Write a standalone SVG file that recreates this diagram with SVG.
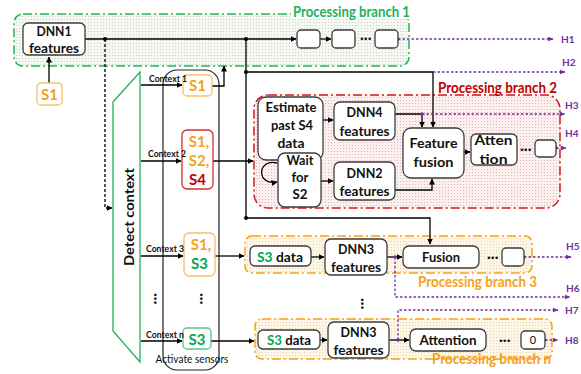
<svg xmlns="http://www.w3.org/2000/svg" width="581" height="374" viewBox="0 0 581 374">
  <defs>
    <style>
      .box { fill: #fff; stroke: #3c3c3c; stroke-width: 1.3; }
      .t { font-family: Lato, "Liberation Sans", sans-serif; font-weight: bold; font-size: 14px; fill: #111; text-anchor: middle; }
      .ts { font-family: Lato, "Liberation Sans", sans-serif; font-weight: bold; font-size: 14px; fill: #111; text-anchor: start; }
      .ctx { font-family: Lato, "Liberation Sans", sans-serif; font-weight: bold; font-size: 9.5px; fill: #111; }
      .s { font-family: Lato, "Liberation Sans", sans-serif; font-weight: bold; font-size: 15px; text-anchor: middle; }
      .or { fill: #F5A11C; }
      .gr { fill: #00A850; }
      .rd { fill: #C00000; }
      .h { font-family: Lato, "Liberation Sans", sans-serif; font-weight: bold; font-size: 10px; fill: #7030A0; }
      .lbl { font-family: Lato, "Liberation Sans", sans-serif; font-weight: bold; font-size: 15px; }
      .dots { font-family: "DejaVu Sans", sans-serif; font-size: 9px; fill: #111; text-anchor: middle; letter-spacing: -1.5px; }
      .cn path { fill: none; stroke: #000; stroke-width: 1.3; }
      .pu path { fill: none; stroke: #7030A0; stroke-width: 1.3; stroke-dasharray: 2.5 2; }
      .jd { fill: #000; }
      .pd { fill: #7030A0; }
    </style>
    <pattern id="pG" width="3" height="3" patternUnits="userSpaceOnUse">
      <rect width="3" height="3" fill="#f6f8f3"/>
      <circle cx="1.5" cy="1.5" r="0.6" fill="#c2ccbb"/>
    </pattern>
    <pattern id="pR" width="3" height="3" patternUnits="userSpaceOnUse">
      <rect width="3" height="3" fill="#fcf1f1"/>
      <circle cx="1.5" cy="1.5" r="0.6" fill="#e6a9a9"/>
    </pattern>
    <pattern id="pO" width="3" height="3" patternUnits="userSpaceOnUse">
      <rect width="3" height="3" fill="#fdf7ea"/>
      <circle cx="1.5" cy="1.5" r="0.6" fill="#f2cf95"/>
    </pattern>
    <marker id="ah" markerWidth="6" markerHeight="6" refX="5.5" refY="3" orient="auto" markerUnits="userSpaceOnUse">
      <path d="M0,0 L6,3 L0,6 z" fill="#000"/>
    </marker>
    <marker id="ap" markerWidth="6" markerHeight="6" refX="5.5" refY="3" orient="auto" markerUnits="userSpaceOnUse">
      <path d="M0,0.5 L6,3 L0,5.5 z" fill="#7030A0"/>
    </marker>
  </defs>

  <rect width="581" height="374" fill="#fff"/>

  <!-- branch containers -->
  <g id="branch1">
    <rect x="14" y="14" width="395" height="52" rx="9" fill="url(#pG)" stroke="#22B35A" stroke-width="1.5" stroke-dasharray="9 3 2 3"/>
    <rect x="291" y="3" width="121" height="16" fill="#fff"/>
    <text class="lbl" x="293" y="17" fill="#22B35A" textLength="117" lengthAdjust="spacingAndGlyphs">Processing branch 1</text>
  </g>
  <g id="branch2">
    <rect x="254" y="95" width="306" height="113" rx="14" fill="url(#pR)" stroke="#D01818" stroke-width="1.5" stroke-dasharray="9 3 2 3"/>
    <text class="lbl" x="438" y="93" fill="#C00000" textLength="119" lengthAdjust="spacingAndGlyphs">Processing branch 2</text>
  </g>
  <g id="branch3">
    <rect x="245" y="236" width="287" height="37" rx="7" fill="url(#pO)" stroke="#F5A11C" stroke-width="1.5" stroke-dasharray="9 3 2 3"/>
    <text class="lbl" x="418" y="287" fill="#F5A11C" textLength="119" lengthAdjust="spacingAndGlyphs">Processing branch 3</text>
  </g>
  <g id="branchn">
    <rect x="255" y="319" width="297" height="40" rx="7" fill="url(#pO)" stroke="#F5A11C" stroke-width="1.5" stroke-dasharray="9 3 2 3"/>
  </g>

  <!-- context detector and sensor activation -->
  <g id="detect-context">
    <polygon points="113,102 140,72 140,362 113,331" fill="#fff" stroke="#22B35A" stroke-width="1.3"/>
    <text class="t" transform="translate(134,217) rotate(-90)" font-size="16" textLength="98" lengthAdjust="spacingAndGlyphs">Detect context</text>
  </g>
  <g id="activate-sensors">
    <rect x="163" y="70" width="56" height="300" rx="14" fill="none" stroke="#222" stroke-width="1.2"/>
    <text x="192" y="363" font-family="Lato, 'Liberation Sans', sans-serif" font-size="12" fill="#111" text-anchor="middle" textLength="73" lengthAdjust="spacingAndGlyphs">Activate sensors</text>
  </g>

  <!-- connectors -->
  <g id="connectors">
    <g class="cn">
      <path d="M85,39 H296" marker-end="url(#ah)"/>
      <path d="M320,39 H331" marker-end="url(#ah)"/>
      <path d="M105,39 V208 H112" stroke-width="1" stroke-dasharray="3 2" marker-end="url(#ah)"/>
      <path d="M49,83 V57" marker-end="url(#ah)"/>
      <path d="M246,39 V218"/>
      <path d="M246,72 H433 V127" marker-end="url(#ah)"/>
      <path d="M246,218 H430 V244" marker-end="url(#ah)"/>
      <path d="M141,85 H182" marker-end="url(#ah)"/>
      <path d="M141,161 H181" marker-end="url(#ah)"/>
      <path d="M141,256 H183" marker-end="url(#ah)"/>
      <path d="M141,341 H182" marker-end="url(#ah)"/>
      <path d="M212,86 H224 V66" marker-end="url(#ah)"/>
      <path d="M213,161 H253" marker-end="url(#ah)"/>
      <path d="M215,256 H244" marker-end="url(#ah)"/>
      <path d="M211,341 H254" marker-end="url(#ah)"/>
      <path d="M323,120 H333" marker-end="url(#ah)"/>
      <path d="M321,181 H333" marker-end="url(#ah)"/>
      <path d="M277,163 C257,158 256,186 277,182" marker-end="url(#ah)"/>
      <path d="M395,114 H422 V127" marker-end="url(#ah)"/>
      <path d="M395,190 H432 V179" marker-end="url(#ah)"/>
      <path d="M464,152 H470" marker-end="url(#ah)"/>
      <path d="M311,257 H324" marker-end="url(#ah)"/>
      <path d="M387,257 H402" marker-end="url(#ah)"/>
      <path d="M320,340 H327" marker-end="url(#ah)"/>
      <path d="M389,340 H409" marker-end="url(#ah)"/>
    </g>
    <circle class="jd" cx="105" cy="39" r="2"/>
    <circle class="jd" cx="246" cy="39" r="2"/>
    <circle class="jd" cx="246" cy="72" r="2"/>
    <circle class="jd" cx="246" cy="218" r="2"/>
    <g class="pu">
      <path d="M398,39 H553" marker-end="url(#ap)"/>
      <path d="M433,72 H565" marker-end="url(#ap)"/>
      <path d="M422,114 H565" marker-end="url(#ap)"/>
      <path d="M556,148 H566" marker-end="url(#ap)"/>
      <path d="M524,257 H571" marker-end="url(#ap)"/>
      <path d="M395,257 V297 H570" marker-end="url(#ap)"/>
      <path d="M398,340 V310 H558" marker-end="url(#ap)"/>
      <path d="M545,340 H558" marker-end="url(#ap)"/>
    </g>
    <circle class="pd" cx="398" cy="39" r="1.8"/>
    <circle class="pd" cx="422" cy="114" r="1.8"/>
    <circle class="pd" cx="556" cy="148" r="1.8"/>
    <circle class="pd" cx="524" cy="257" r="1.8"/>
    <circle class="pd" cx="395" cy="257" r="1.8"/>
    <circle class="pd" cx="398" cy="340" r="1.8"/>
    <circle class="pd" cx="545" cy="340" r="1.8"/>
  </g>

  <!-- branch 1 nodes -->
  <g id="dnn1">
    <rect class="box" x="23" y="23" width="62" height="32" rx="5"/>
    <text class="t" x="54" y="36" textLength="35" lengthAdjust="spacingAndGlyphs">DNN1</text>
    <text class="t" x="54" y="53" textLength="50" lengthAdjust="spacingAndGlyphs">features</text>
  </g>
  <g id="s1-source">
    <rect x="37" y="83" width="25" height="22" rx="4" fill="#fff" stroke="#F7C06A" stroke-width="1.3"/>
    <text class="s or" x="49.5" y="100">S1</text>
  </g>
  <g id="b1-step1"><rect class="box" x="297" y="30" width="23" height="18" rx="4"/></g>
  <g id="b1-step2"><rect class="box" x="332" y="30" width="23" height="18" rx="4"/></g>
  <text class="dots" x="365" y="42">•••</text>
  <g id="b1-out"><rect class="box" x="375" y="30" width="23" height="18" rx="4"/></g>

  <!-- sensor sets -->
  <g id="sensors-ctx1">
    <rect x="183" y="75" width="29" height="21" rx="4" fill="#fff" stroke="#F7C06A" stroke-width="1.3"/>
    <text class="s or" x="197.5" y="91">S1</text>
  </g>
  <g id="sensors-ctx2">
    <rect x="182" y="130" width="31" height="59" rx="5" fill="#fff" stroke="#D03030" stroke-width="1.3"/>
    <text class="s or" x="199" y="147">S1,</text>
    <text class="s or" x="199" y="166">S2,</text>
    <text class="s rd" x="197.5" y="185">S4</text>
  </g>
  <g id="sensors-ctx3">
    <rect x="184" y="233" width="31" height="43" rx="5" fill="#fff" stroke="#F7C06A" stroke-width="1.3"/>
    <text class="s or" x="201" y="250">S1,</text>
    <text class="s gr" x="199.5" y="269">S3</text>
  </g>
  <g id="sensors-ctxn">
    <rect x="183" y="328" width="28" height="21" rx="4" fill="#fff" stroke="#5CC48A" stroke-width="1.3"/>
    <text class="s gr" x="197" y="345">S3</text>
  </g>

  <!-- context labels -->
  <text class="ctx" x="149" y="82" textLength="38" lengthAdjust="spacingAndGlyphs">Context 1</text>
  <text class="ctx" x="148" y="157" textLength="38" lengthAdjust="spacingAndGlyphs">Context 2</text>
  <text class="ctx" x="146" y="252" textLength="38" lengthAdjust="spacingAndGlyphs">Context 3</text>
  <text class="ctx" x="146" y="338" textLength="38" lengthAdjust="spacingAndGlyphs">Context n</text>
  <text class="dots" transform="translate(152,298) rotate(90)">•••</text>
  <text class="dots" transform="translate(198,298) rotate(90)">•••</text>

  <!-- branch 2 nodes -->
  <g id="estimate-s4">
    <rect class="box" x="258" y="97" width="65" height="63" rx="8"/>
    <text class="t" x="291" y="112" textLength="51" lengthAdjust="spacingAndGlyphs">Estimate</text>
    <text class="t" x="292" y="130" textLength="42" lengthAdjust="spacingAndGlyphs">past S4</text>
    <text class="t" x="291" y="148" textLength="27" lengthAdjust="spacingAndGlyphs">data</text>
  </g>
  <g id="wait-s2">
    <rect class="box" x="278" y="153" width="43" height="54" rx="7"/>
    <text class="t" x="300" y="165" textLength="27" lengthAdjust="spacingAndGlyphs">Wait</text>
    <text class="t" x="300" y="182" textLength="17" lengthAdjust="spacingAndGlyphs">for</text>
    <text class="t" x="300" y="199" textLength="15" lengthAdjust="spacingAndGlyphs">S2</text>
  </g>
  <g id="dnn4">
    <rect class="box" x="334" y="102" width="61" height="38" rx="6"/>
    <text class="t" x="364.5" y="117" textLength="36" lengthAdjust="spacingAndGlyphs">DNN4</text>
    <text class="t" x="364.5" y="136" textLength="50" lengthAdjust="spacingAndGlyphs">features</text>
  </g>
  <g id="dnn2">
    <rect class="box" x="334" y="162" width="61" height="38" rx="6"/>
    <text class="t" x="364.5" y="178" textLength="36" lengthAdjust="spacingAndGlyphs">DNN2</text>
    <text class="t" x="364.5" y="196" textLength="50" lengthAdjust="spacingAndGlyphs">features</text>
  </g>
  <g id="feature-fusion">
    <rect class="box" x="403" y="128" width="61" height="50" rx="8"/>
    <text class="t" x="433.5" y="148" textLength="48" lengthAdjust="spacingAndGlyphs">Feature</text>
    <text class="t" x="433.5" y="167" textLength="40" lengthAdjust="spacingAndGlyphs">fusion</text>
  </g>
  <g id="attention-b2">
    <rect class="box" x="471" y="134" width="46" height="31" rx="5"/>
    <text class="t" x="493.5" y="145" textLength="38" lengthAdjust="spacingAndGlyphs">Atten</text>
    <text class="t" x="493.5" y="164" textLength="28" lengthAdjust="spacingAndGlyphs">tion</text>
  </g>
  <text class="dots" x="525" y="153">•••</text>
  <g id="b2-out"><rect class="box" x="535" y="140" width="21" height="17" rx="4"/></g>

  <!-- branch 3 nodes -->
  <g id="s3-data-b3">
    <rect class="box" x="250" y="246" width="61" height="20" rx="5"/>
    <text class="ts" x="257" y="262" textLength="46" lengthAdjust="spacingAndGlyphs"><tspan class="gr">S3</tspan> data</text>
  </g>
  <g id="dnn3-b3">
    <rect class="box" x="325" y="239" width="62" height="36" rx="6"/>
    <text class="t" x="356" y="254" textLength="36" lengthAdjust="spacingAndGlyphs">DNN3</text>
    <text class="t" x="356" y="272" textLength="50" lengthAdjust="spacingAndGlyphs">features</text>
  </g>
  <g id="fusion-b3">
    <rect class="box" x="403" y="246" width="76" height="22" rx="6"/>
    <text class="t" x="441" y="262" textLength="38" lengthAdjust="spacingAndGlyphs">Fusion</text>
  </g>
  <text class="dots" x="492" y="261">•••</text>
  <g id="b3-out"><rect class="box" x="502" y="248" width="22" height="18" rx="4"/></g>

  <!-- branch n nodes -->
  <g id="s3-data-bn">
    <rect class="box" x="258" y="330" width="62" height="19" rx="5"/>
    <text class="ts" x="267" y="345" textLength="44" lengthAdjust="spacingAndGlyphs"><tspan class="gr">S3</tspan> data</text>
  </g>
  <text class="dots" transform="translate(359,303) rotate(90)">•••</text>
  <g id="dnn3-bn">
    <rect class="box" x="328" y="322" width="61" height="36" rx="6"/>
    <text class="t" x="358.5" y="337" textLength="36" lengthAdjust="spacingAndGlyphs">DNN3</text>
    <text class="t" x="358.5" y="355" textLength="50" lengthAdjust="spacingAndGlyphs">features</text>
  </g>
  <g id="attention-bn">
    <rect class="box" x="410" y="329" width="76" height="22" rx="6"/>
    <text class="t" x="448" y="345" textLength="57" lengthAdjust="spacingAndGlyphs">Attention</text>
  </g>
  <text class="dots" x="504" y="344">•••</text>
  <g id="bn-out">
    <rect class="box" x="521" y="331" width="24" height="18" rx="4"/>
    <text x="533" y="344" font-family="Lato, 'Liberation Sans', sans-serif" font-size="11" fill="#111" text-anchor="middle">0</text>
  </g>
  <text class="lbl" x="432" y="364" fill="#F5A11C" textLength="119" lengthAdjust="spacingAndGlyphs">Processing branch n</text>

  <!-- outputs -->
  <text class="h" x="561" y="43">H1</text>
  <text class="h" x="562" y="66">H2</text>
  <text class="h" x="565" y="109">H3</text>
  <text class="h" x="565" y="137">H4</text>
  <text class="h" x="566" y="250">H5</text>
  <text class="h" x="566" y="292">H6</text>
  <text class="h" x="565" y="314">H7</text>
  <text class="h" x="565" y="344">H8</text>
</svg>
